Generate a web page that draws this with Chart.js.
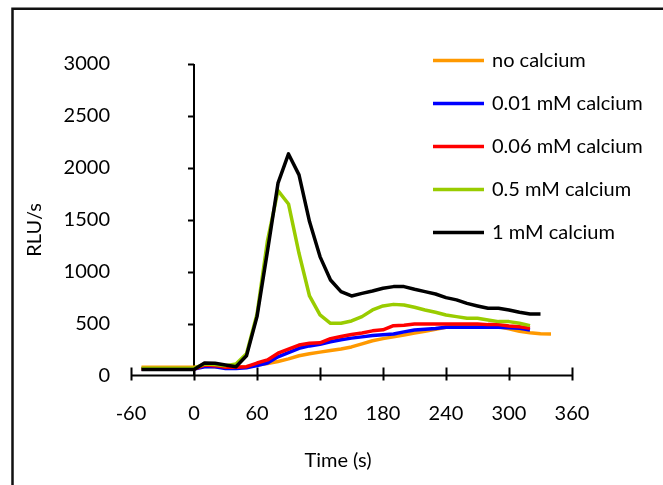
<!DOCTYPE html>
<html>
<head>
<meta charset="utf-8">
<script src="https://cdn.jsdelivr.net/npm/chart.js@4.4.1/dist/chart.umd.min.js"></script>
<style>
  html, body { margin: 0; padding: 0; background: #fff; }
  #wrap { position: relative; width: 663px; height: 485px; }
</style>
</head>
<body>
<div id="wrap"><canvas id="chart" width="663" height="485"></canvas></div>
<script>
const FONT_FAMILY = 'Lato, "Open Sans", sans-serif';
const FONT_SIZE = 20;

// sampling times (s), every 10 s
const times = [-50, -40, -30, -20, -10, 0, 10, 20, 30, 40, 50, 60, 70, 80, 90, 100,
  110, 120, 130, 140, 150, 160, 170, 180, 190, 200, 210, 220, 230, 240, 250,
  260, 270, 280, 290, 300, 310, 320, 330, 340];

const seriesLabels = ['no calcium', '0.01 mM calcium', '0.06 mM calcium', '0.5 mM calcium', '1 mM calcium'];
const seriesColors = ['#FF9900', '#0000FF', '#FF0000', '#99CC00', '#000000'];

// RLU/s readings
const noCalcium = [80, 80, 80, 80, 80, 80, 90, 85, 80, 80, 85,
  100, 115, 135, 160, 190, 210, 225, 240, 255, 275, 305, 335, 355, 372, 390,
  410, 425, 445, 465, 475, 480, 480, 480, 470, 450, 425, 412, 403, 400];
const calcium001 = [62, 62, 62, 62, 62, 62, 85, 85, 68, 68, 75,
  95, 120, 180, 220, 262, 285, 300, 325, 345, 360, 372, 385, 392, 400, 420,
  438, 445, 452, 464, 464, 464, 464, 464, 464, 460, 455, 438];
const calcium006 = [62, 62, 62, 62, 62, 62, 100, 95, 80, 80, 85,
  120, 150, 215, 255, 293, 310, 315, 355, 375, 395, 410, 430, 440, 480, 485,
  497, 497, 497, 497, 497, 497, 497, 490, 490, 477, 470, 455];
const calcium05 = [70, 70, 70, 70, 70, 70, 110, 105, 95, 110, 210,
  590, 1300, 1780, 1652, 1177, 766, 583, 503, 503, 525, 567, 631, 670, 685, 679,
  657, 631, 609, 583, 567, 551, 551, 535, 519, 519, 503, 480];
const calcium1 = [58, 58, 58, 58, 58, 58, 120, 117, 101, 85, 190,
  567, 1200, 1852, 2134, 1932, 1482, 1145, 920, 808, 766, 791, 814, 840, 856, 856,
  830, 808, 785, 750, 728, 695, 670, 647, 647, 631, 609, 592, 592];

const xTicks = [-60, 0, 60, 120, 180, 240, 300, 360];
const yTicks = [0, 500, 1000, 1500, 2000, 2500, 3000];

function toPoints(values) {
  return values.map(function (v, i) { return { x: times[i], y: v }; });
}

const allValues = [noCalcium, calcium001, calcium006, calcium05, calcium1];

const datasets = allValues.map(function (vals, i) {
  return {
    label: seriesLabels[i],
    data: toPoints(vals),
    borderColor: seriesColors[i],
    backgroundColor: seriesColors[i],
    borderWidth: 3.5,
    pointRadius: 0,
    tension: 0,
    borderJoinStyle: 'round',
    fill: false,
    // later series sit on top, like the spreadsheet drew them
    order: allValues.length - i
  };
});

// frame, axes through zero, titles and the legend
const decorations = {
  id: 'decorations',
  beforeDraw(chart) {
    const ctx = chart.ctx;
    ctx.save();
    ctx.fillStyle = '#fff';
    ctx.fillRect(0, 0, chart.width, chart.height);
    ctx.strokeStyle = '#111';
    ctx.lineWidth = 2.5;
    ctx.beginPath();
    ctx.moveTo(12.5, chart.height);
    ctx.lineTo(12.5, 8.75);
    ctx.lineTo(chart.width, 8.75);
    ctx.stroke();
    ctx.restore();
  },
  beforeDatasetsDraw(chart) {
    const ctx = chart.ctx;
    const xs = chart.scales.x;
    const ys = chart.scales.y;
    const x0 = xs.getPixelForValue(0);
    const y0 = ys.getPixelForValue(0);
    ctx.save();
    ctx.strokeStyle = '#000';
    ctx.lineWidth = 2;
    ctx.beginPath();
    ctx.moveTo(xs.left, y0);
    ctx.lineTo(xs.right, y0);
    xTicks.forEach(function (t) {
      const px = Math.round(xs.getPixelForValue(t)) + 0.5;
      ctx.moveTo(px, y0 - 8);
      ctx.lineTo(px, y0 + 5);
    });
    ctx.moveTo(x0, ys.top);
    ctx.lineTo(x0, y0);
    yTicks.forEach(function (t) {
      if (t === 0) return;
      const py = Math.round(ys.getPixelForValue(t)) + 0.5;
      ctx.moveTo(x0 - 6, py);
      ctx.lineTo(x0, py);
    });
    ctx.stroke();
    ctx.restore();
  },
  afterDraw(chart) {
    const ctx = chart.ctx;
    ctx.save();
    ctx.fillStyle = '#000';
    ctx.font = FONT_SIZE + 'px ' + FONT_FAMILY;
    ctx.textBaseline = 'middle';

    // axis titles
    ctx.textAlign = 'center';
    ctx.fillText('Time (s)', 338, 461);
    ctx.save();
    ctx.translate(35, 230);
    ctx.rotate(-Math.PI / 2);
    ctx.fillText('RLU/s', 0, 0);
    ctx.restore();

    // legend
    ctx.textAlign = 'left';
    chart.data.datasets.forEach(function (ds, i) {
      const y = 60 + i * 43;
      ctx.strokeStyle = ds.borderColor;
      ctx.lineWidth = 3.5;
      ctx.beginPath();
      ctx.moveTo(433, y + 0.5);
      ctx.lineTo(484, y + 0.5);
      ctx.stroke();
      ctx.fillText(ds.label, 492, y + 1);
    });
    ctx.restore();
  }
};

new Chart(document.getElementById('chart').getContext('2d'), {
  type: 'line',
  data: { datasets: datasets },
  plugins: [decorations],
  options: {
    responsive: false,
    animation: false,
    layout: { padding: { top: 64, right: 91, left: 0, bottom: 0 } },
    plugins: {
      legend: { display: false },
      tooltip: { enabled: false }
    },
    scales: {
      x: {
        type: 'linear',
        min: -60,
        max: 360,
        afterBuildTicks: function (scale) {
          scale.ticks = xTicks.map(function (v) { return { value: v }; });
        },
        ticks: {
          color: '#000',
          font: { family: FONT_FAMILY, size: FONT_SIZE },
          padding: 26,
          maxRotation: 0,
          autoSkip: false,
          callback: function (value) { return String(value); }
        },
        grid: { display: false, drawTicks: false },
        border: { display: false },
        afterFit: function (scale) { scale.height = 109.5; }
      },
      y: {
        min: 0,
        max: 3000,
        afterBuildTicks: function (scale) {
          scale.ticks = yTicks.map(function (v) { return { value: v }; });
        },
        ticks: {
          color: '#000',
          font: { family: FONT_FAMILY, size: FONT_SIZE },
          padding: 21,
          callback: function (value) { return String(value); }
        },
        grid: { display: false, drawTicks: false },
        border: { display: false },
        afterFit: function (scale) { scale.width = 131; }
      }
    }
  }
});
</script>
</body>
</html>
